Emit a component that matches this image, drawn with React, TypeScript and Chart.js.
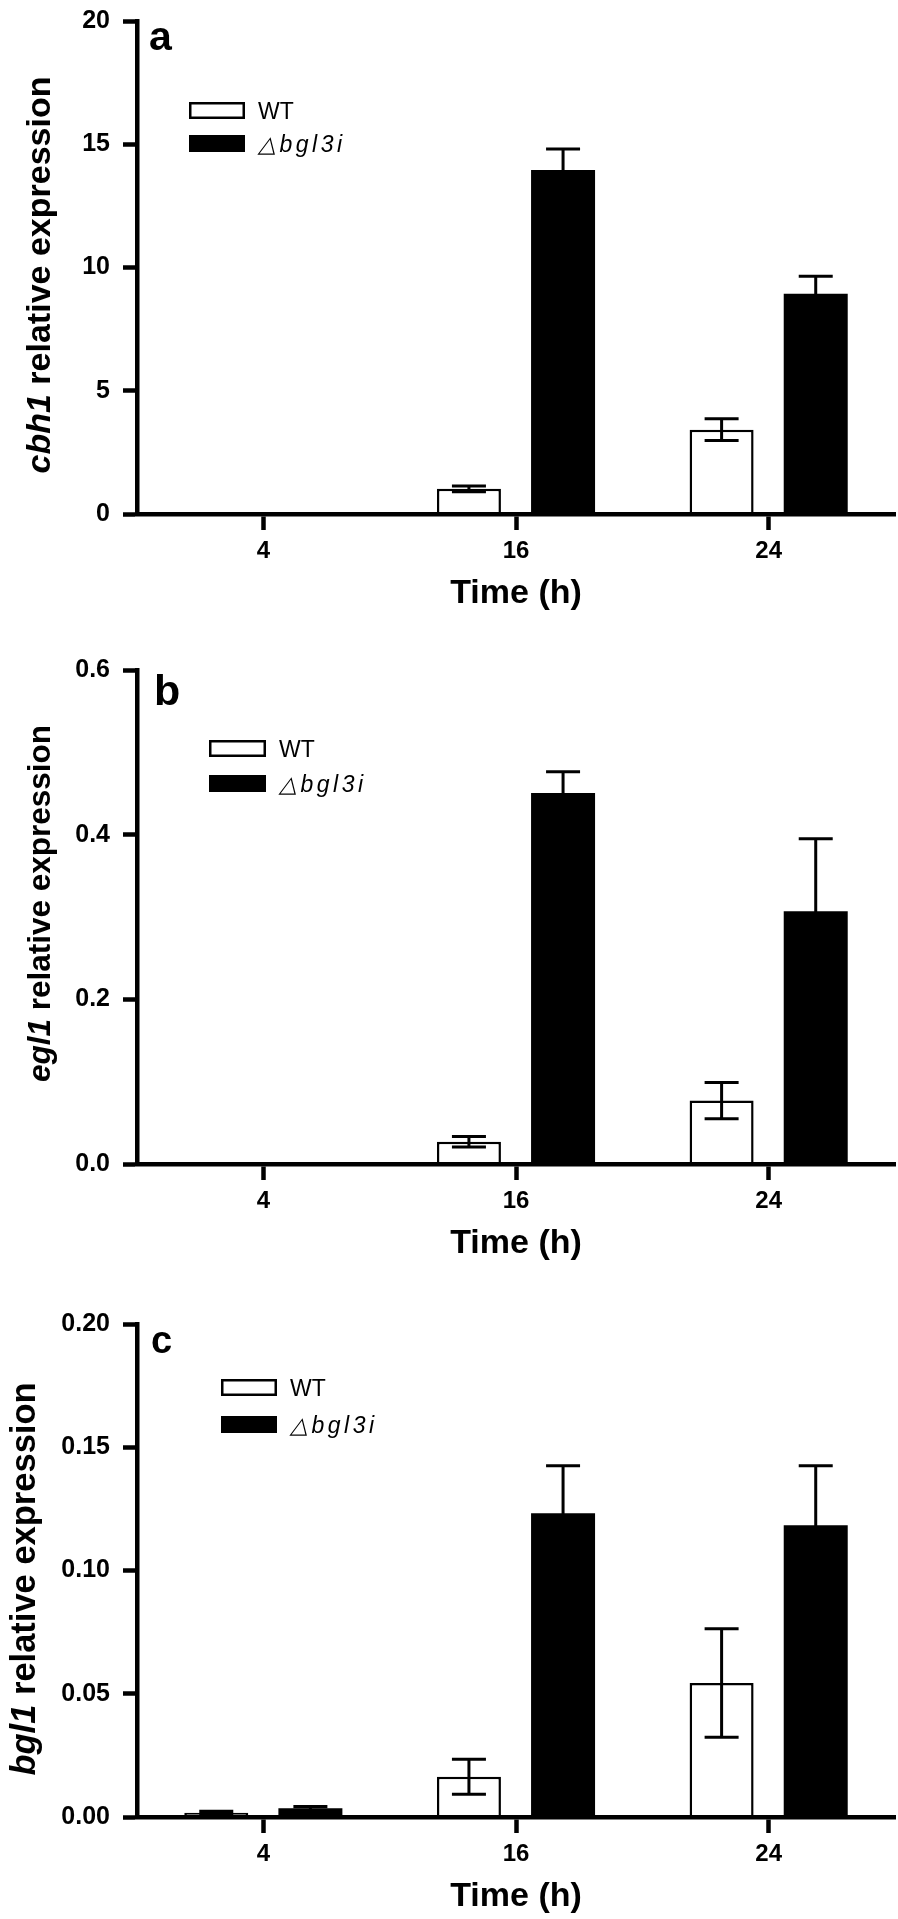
import React, { useEffect, useRef } from 'react';
import { Chart, registerables } from 'chart.js';

Chart.register(...registerables);

const FONT = 'Arial, "Liberation Sans", Helvetica, sans-serif';

// ---- data ----
const timeLabels = ['4', '16', '24'];
const seriesLabels = ['WT', '△bgl3i'];

const cbh1WT = [0, 1.02, 3.42];
const cbh1WTErr = [0, 0.12, 0.44];
const cbh1Mut = [0, 13.96, 8.94];
const cbh1MutErr = [0, 0.85, 0.71];

const egl1WT = [0, 0.027, 0.077];
const egl1WTErr = [0, 0.0065, 0.022];
const egl1Mut = [0, 0.4505, 0.307];
const egl1MutErr = [0, 0.026, 0.088];

const bgl1WT = [0.0017, 0.0163, 0.0544];
const bgl1WTErr = [0.0006, 0.0071, 0.022];
const bgl1Mut = [0.0035, 0.1232, 0.1184];
const bgl1MutErr = [0.0008, 0.0193, 0.0241];

const cbh1Axis = { max: 20, step: 5, decimals: 0 };
const egl1Axis = { max: 0.6, step: 0.2, decimals: 1 };
const bgl1Axis = { max: 0.2, step: 0.05, decimals: 2 };

const xTitle = 'Time (h)';
const yTitleRest = ' relative expression';

// ---- layout/style per panel ----
const PANELS = [
  {
    letter: 'a', gene: 'cbh1', wt: cbh1WT, wtErr: cbh1WTErr, mut: cbh1Mut, mutErr: cbh1MutErr, axis: cbh1Axis,
    top: -7, plotH: 501,
    titleSize: 34, titleX: 50, titleDy: 7.5,
    letterSize: 41, letterX: 149, letterDy: 29,
    legendDx: 52, legendDy: 81, legendGap: 33, boxW: 56, boxH: 17,
  },
  {
    letter: 'b', gene: 'egl1', wt: egl1WT, wtErr: egl1WTErr, mut: egl1Mut, mutErr: egl1MutErr, axis: egl1Axis,
    top: 642, plotH: 502,
    titleSize: 31.5, titleX: 50, titleDy: -13.5,
    letterSize: 43, letterX: 154, letterDy: 35,
    legendDx: 72, legendDy: 70, legendGap: 35, boxW: 57, boxH: 17,
  },
  {
    letter: 'c', gene: 'bgl1', wt: bgl1WT, wtErr: bgl1WTErr, mut: bgl1Mut, mutErr: bgl1MutErr, axis: bgl1Axis,
    top: 1296, plotH: 501,
    titleSize: 34.5, titleX: 35, titleDy: 8.5,
    letterSize: 38, letterX: 151, letterDy: 29,
    legendDx: 84, legendDy: 55, legendGap: 37, boxW: 56, boxH: 17,
  },
];

const PAD_TOP = 20;
const X_AXIS_H = 100;
const Y_AXIS_W = 137;
const W = 898;
const AXIS_LW = 4.5;

function PanelChart({ cfg }: { cfg: any }) {
  const ref = useRef<HTMLCanvasElement>(null);
  const H = PAD_TOP + cfg.plotH + X_AXIS_H;

  useEffect(() => {
    const errorBars = {
      id: 'errorBars',
      afterDatasetsDraw(chart: any) {
        const ctx = chart.ctx;
        const yScale = chart.scales.y;
        ctx.save();
        ctx.strokeStyle = '#000';
        ctx.lineWidth = 3;
        chart.data.datasets.forEach((ds: any, di: number) => {
          const meta = chart.getDatasetMeta(di);
          meta.data.forEach((bar: any, i: number) => {
            const v = ds.data[i];
            const e = ds.errors[i];
            if (!e) return;
            const yT = yScale.getPixelForValue(v + e);
            const yB = yScale.getPixelForValue(Math.max(v - e, 0));
            const x = bar.x;
            const half = 17;
            ctx.beginPath();
            ctx.moveTo(x, yB);
            ctx.lineTo(x, yT);
            ctx.moveTo(x - half, yT);
            ctx.lineTo(x + half, yT);
            ctx.moveTo(x - half, yB);
            ctx.lineTo(x + half, yB);
            ctx.stroke();
          });
        });
        ctx.restore();
      },
    };

    const panelText = {
      id: 'panelText',
      afterDraw(chart: any) {
        const ctx = chart.ctx;
        const area = chart.chartArea;
        ctx.save();
        ctx.fillStyle = '#000';
        // panel letter
        ctx.font = `bold ${cfg.letterSize}px ${FONT}`;
        ctx.textBaseline = 'alphabetic';
        ctx.textAlign = 'left';
        ctx.fillText(cfg.letter, cfg.letterX, area.top + cfg.letterDy);

        // y title (rotated, mixed style)
        const cy = (area.top + area.bottom) / 2 + cfg.titleDy;
        ctx.save();
        ctx.translate(cfg.titleX, cy);
        ctx.rotate(-Math.PI / 2);
        const fItal = `italic bold ${cfg.titleSize}px ${FONT}`;
        const fBold = `bold ${cfg.titleSize}px ${FONT}`;
        ctx.font = fItal;
        const w1 = ctx.measureText(cfg.gene).width;
        ctx.font = fBold;
        const w2 = ctx.measureText(yTitleRest).width;
        const start = -(w1 + w2) / 2;
        ctx.font = fItal;
        ctx.fillText(cfg.gene, start, 0);
        ctx.font = fBold;
        ctx.fillText(yTitleRest, start + w1, 0);
        ctx.restore();

        // legend
        const bx = area.left + cfg.legendDx;
        const by = area.top + cfg.legendDy;
        chart.data.datasets.forEach((ds: any, i: number) => {
          const top = by + i * cfg.legendGap;
          ctx.fillStyle = ds.backgroundColor;
          ctx.fillRect(bx, top, cfg.boxW, cfg.boxH);
          ctx.lineWidth = 2.5;
          ctx.strokeStyle = ds.borderColor;
          ctx.strokeRect(bx + 1.25, top + 1.25, cfg.boxW - 2.5, cfg.boxH - 2.5);
          ctx.fillStyle = '#000';
          if (i === 0) {
            ctx.font = `23px ${FONT}`;
            (ctx as any).letterSpacing = '0px';
          } else {
            ctx.font = `italic 23px ${FONT}`;
            (ctx as any).letterSpacing = '3.5px';
          }
          ctx.fillText(ds.label, bx + cfg.boxW + 13, top + cfg.boxH);
          (ctx as any).letterSpacing = '0px';
        });
        ctx.restore();
      },
    };

    const chart = new Chart(ref.current as HTMLCanvasElement, {
      type: 'bar',
      data: {
        labels: timeLabels,
        datasets: [
          {
            label: seriesLabels[0],
            data: cfg.wt,
            errors: cfg.wtErr,
            backgroundColor: '#ffffff',
            borderColor: '#000000',
            borderWidth: 2.5,
            borderSkipped: 'start',
          } as any,
          {
            label: seriesLabels[1],
            data: cfg.mut,
            errors: cfg.mutErr,
            backgroundColor: '#000000',
            borderColor: '#000000',
            borderWidth: 0,
          } as any,
        ],
      },
      options: {
        responsive: false,
        animation: false,
        devicePixelRatio: 1,
        layout: { padding: { top: PAD_TOP, right: 3, bottom: 0, left: 0 } },
        datasets: { bar: { categoryPercentage: 0.745, barPercentage: 0.68 } },
        plugins: { legend: { display: false }, tooltip: { enabled: false } },
        scales: {
          x: {
            type: 'category',
            offset: true,
            grid: {
              display: true, drawOnChartArea: false, drawTicks: true,
              tickLength: 16, tickWidth: AXIS_LW, tickColor: '#000', color: '#000', offset: false, z: 1,
            },
            border: { display: true, color: '#000', width: AXIS_LW, z: 1 },
            ticks: { color: '#000', font: { family: FONT, size: 24, weight: 'bold' }, padding: 7, maxRotation: 0 },
            title: {
              display: true, text: xTitle, color: '#000',
              font: { family: FONT, size: 34, weight: 'bold' }, padding: { top: 0, bottom: 0 },
            },
            afterFit: (s: any) => { s.height = X_AXIS_H; },
          },
          y: {
            min: 0,
            max: cfg.axis.max,
            grid: {
              display: true, drawOnChartArea: false, drawTicks: true,
              tickLength: 14, tickWidth: AXIS_LW, tickColor: '#000', color: '#000', z: 1,
            },
            border: { display: true, color: '#000', width: AXIS_LW, z: 1 },
            ticks: {
              stepSize: cfg.axis.step,
              color: '#000',
              font: { family: FONT, size: 25, weight: 'bold' },
              padding: 13,
              callback: (v: any) => Number(v).toFixed(cfg.axis.decimals),
            },
            afterFit: (s: any) => { s.width = Y_AXIS_W; },
          },
        },
      } as any,
      plugins: [errorBars, panelText],
    });
    return () => chart.destroy();
  }, []);

  return (
    <canvas
      ref={ref}
      width={W}
      height={H}
      style={{ position: 'absolute', left: 0, top: cfg.top, width: W, height: H }}
    />
  );
}

export default function App() {
  return (
    <div style={{ position: 'absolute', left: 0, top: 0, width: W, height: 1919, background: '#fff', overflow: 'hidden' }}>
      {PANELS.map((p) => (
        <PanelChart key={p.letter} cfg={p} />
      ))}
    </div>
  );
}
